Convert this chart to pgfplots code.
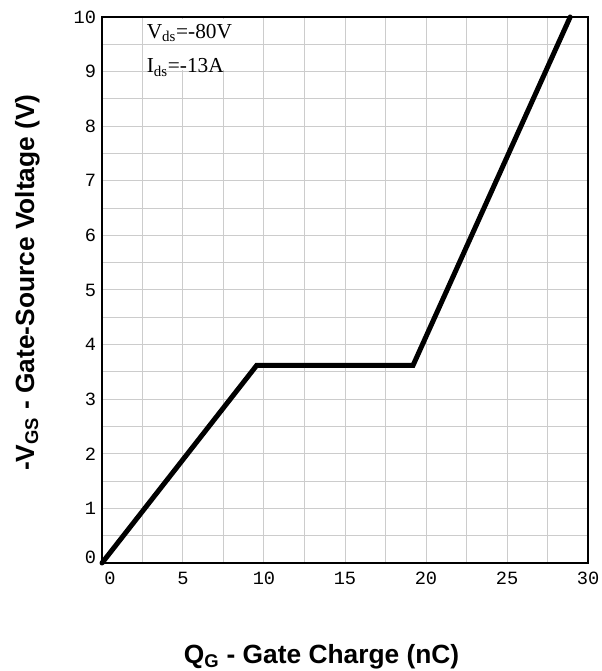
\documentclass[border=0pt]{standalone}
\usepackage{fontspec}
\usepackage{pgfplots}
\pgfplotsset{compat=1.18}
\setmainfont{Liberation Serif}
\newfontfamily\arial{Liberation Sans}
\newfontfamily\tickfont{Liberation Mono}
\definecolor{gridgray}{RGB}{204,204,204}

\begin{document}
\begin{tikzpicture}
\path[use as bounding box] (-76.5pt,-81pt) rectangle (375pt,422.25pt);
\begin{axis}[
    at={(0,0)}, anchor=south west,
    scale only axis,
    width=364.5pt, height=409.5pt,
    xmin=0, xmax=30, ymin=0, ymax=10,
    xtick={0,5,...,30}, ytick={0,1,...,10},
    xticklabels={\hspace*{12pt}0,5,10,15,20,25,30},
    yticklabels={\raisebox{8pt}{0},1,2,3,4,5,6,7,8,9,10},
    minor x tick num=1, minor y tick num=1,
    grid=both,
    major grid style={gridgray, line width=0.75pt},
    minor grid style={gridgray, line width=0.75pt},
    major tick length=0pt, minor tick length=0pt,
    axis line style={black, line width=0.8pt},
    tick label style={font=\tickfont\fontsize{14}{16}\selectfont},
    xticklabel style={yshift=-3pt},
    yticklabel style={xshift=-1pt},
    xlabel={Q\textsubscript{G} - Gate Charge (nC)},
    ylabel={-V\textsubscript{GS} - Gate-Source Voltage (V)},
    label style={font=\arial\bfseries\fontsize{19.75}{24}\selectfont},
    xlabel style={at={(axis description cs:0.4517,-0.1832)}, anchor=base},
    ylabel style={at={(axis description cs:-0.1399,0.5137)}, anchor=base, rotate=0},
    clip=false,
]
% white box behind the bias conditions
\fill[white] (axis cs:2.58,9.03) rectangle (axis cs:9.92,9.97);
\draw[gridgray, line width=0.75pt] (axis cs:2.5,9.5) -- (axis cs:10,9.5);
\node[anchor=north west, inner sep=0pt, font=\fontsize{16}{19}\selectfont, align=left]
    at (axis cs:2.75,9.88) {V\textsubscript{ds}=-80V\\[7pt]I\textsubscript{ds}=-13A};
\addplot[black, line width=3.75pt, line cap=round, line join=miter] coordinates {
    (0,0) (9.55,3.62) (19.2,3.62) (28.9,10)
};
\end{axis}
\end{tikzpicture}
\end{document}
